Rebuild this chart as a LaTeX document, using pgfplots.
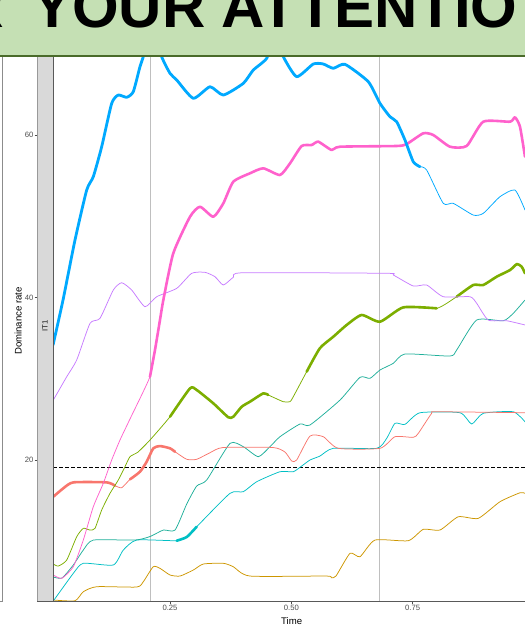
\documentclass[border=0pt]{standalone}
\usepackage{fontspec}
\setmainfont{Liberation Sans}
\usepackage{pgfplots}
\pgfplotsset{compat=1.18}
\definecolor{cred}{HTML}{F8766D}
\definecolor{cgold}{HTML}{CD9600}
\definecolor{cgreen}{HTML}{7CAE00}
\definecolor{cteal}{HTML}{1FAF9A}
\definecolor{ccyan}{HTML}{00BFC4}
\definecolor{cblue}{HTML}{00A9FF}
\definecolor{cpurple}{HTML}{C77CFF}
\definecolor{cpink}{HTML}{FF61CC}
\definecolor{banner}{HTML}{C5E0B4}
\definecolor{bannerline}{HTML}{4A6B2A}
\definecolor{stripgray}{HTML}{D9D9D9}
\definecolor{ticklab}{HTML}{4D4D4D}
\begin{document}
\begin{tikzpicture}[x=1pt,y=1pt]
\useasboundingbox (0,0) rectangle (525,627);
\clip (0,0) rectangle (525,627);
\begin{axis}[
  at={(37.3pt,26pt)}, anchor=south west, scale only axis,
  width=492.3pt, height=553pt,
  xmin=-0.0235, xmax=0.991, ymin=2.65, ymax=70.71,
  axis x line*=bottom, axis y line*=left,
  x axis line style={draw=black!65, line width=0.7pt},
  y axis line style={draw=black!40, line width=0.6pt},
  xtick={0.25,0.5,0.75}, xticklabels={0.25,0.50,0.75},
  ytick={20,40,60}, yticklabels={20,40,60},
  tick align=outside, major tick length=2.7pt,
  tick style={color=black!70, line width=0.5pt},
  tick label style={font=\fontsize{7.7}{8}\selectfont, text=ticklab},
  y tick label style={inner sep=1pt},
  x tick label style={inner sep=1.5pt},
  clip=true,
  every axis plot/.append style={line join=round, line cap=round},
]
% reference lines
\addplot[black!25, line width=0.8pt] coordinates {(0.2087,0) (0.2087,80)};
\addplot[black!25, line width=0.8pt] coordinates {(0.6812,0) (0.6812,80)};
\addplot[black, line width=0.7pt, dash pattern=on 3.5pt off 2.5pt, line cap=butt] coordinates {(0.0089,19.1) (0.991,19.1)};
% gold
\addplot[cgold, line width=0.75pt, smooth, tension=0.35] coordinates {
(0.0095,2.77)(0.0542,2.68)(0.0713,3.79)(0.0989,4.41)(0.1813,4.37)(0.1949,5.02)(0.2155,6.87)(0.2293,6.67)(0.2500,5.85)(0.2706,5.72)(0.2980,6.46)(0.3186,7.20)(0.3598,7.29)(0.3804,6.87)(0.4148,5.72)(0.5721,5.72)(0.5820,5.50)(0.5920,5.72)(0.6209,8.52)(0.6415,8.10)(0.6724,10.15)(0.7410,10.07)(0.7719,11.47)(0.8063,11.38)(0.8441,13.02)(0.8852,12.82)(0.9300,14.87)(0.9712,15.97)(0.9815,15.90)};
% cyan
\addplot[ccyan, line width=0.75pt, smooth, tension=0.35] coordinates {
(0.0095,2.65)(0.0507,6.05)(0.0713,7.29)(0.1331,7.08)(0.1537,8.92)(0.1813,10.15)(0.2638,10.07)(0.2844,10.52)(0.3050,11.79)(0.3736,15.90)(0.4010,16.10)(0.4286,17.33)(0.4766,18.56)(0.5040,18.56)(0.5213,19.26)(0.5384,20.00)(0.5590,20.49)(0.5864,21.44)(0.6759,21.44)(0.6965,22.67)(0.7136,24.52)(0.7342,24.39)(0.7651,25.82)(0.8475,25.82)(0.8716,24.43)(0.8955,25.75)(0.9574,25.94)(0.9815,24.71)};
\addplot[ccyan, line width=2.6pt, smooth, tension=0.35] coordinates {(0.2638,10.07)(0.2844,10.52)(0.3050,11.79)};
% teal
\addplot[cteal, line width=0.75pt, smooth, tension=0.35] coordinates {
(0.0095,5.60)(0.0274,5.48)(0.0507,7.08)(0.0713,8.92)(0.0919,10.15)(0.1778,10.15)(0.2087,10.58)(0.2362,11.38)(0.2603,11.38)(0.2844,14.58)(0.3050,16.80)(0.3256,17.54)(0.3736,22.05)(0.4010,21.64)(0.4319,20.41)(0.4560,21.64)(0.4766,22.87)(0.5178,24.43)(0.5384,24.31)(0.6003,27.38)(0.6415,30.18)(0.6621,30.05)(0.6827,31.08)(0.7101,31.90)(0.7342,33.05)(0.8269,32.80)(0.8407,33.54)(0.8819,37.23)(0.9367,37.14)(0.9574,38.06)(0.9815,39.69)};
% red
\addplot[cred, line width=0.75pt, smooth, tension=0.35] coordinates {
(0.0095,15.48)(0.0301,16.52)(0.0507,17.25)(0.1195,17.25)(0.1366,16.84)(0.1504,16.59)(0.1675,17.62)(0.1881,18.56)(0.2019,19.79)(0.2155,21.44)(0.2293,21.72)(0.2500,21.44)(0.2603,21.02)(0.2844,20.09)(0.3050,20.09)(0.3324,20.90)(0.3592,21.54)(0.4622,21.54)(0.4869,20.98)(0.5007,19.88)(0.5110,20.00)(0.5384,22.95)(0.5658,22.87)(0.5968,21.44)(0.6827,21.44)(0.7136,22.87)(0.7513,22.79)(0.7616,23.28)(0.7892,25.75)(0.7995,25.94)(0.9815,25.82)};
\addplot[cred, line width=2.6pt, smooth, tension=0.35] coordinates {(0.0095,15.48)(0.0301,16.52)(0.0507,17.25)(0.1195,17.25)(0.1366,16.84)};
\addplot[cred, line width=2.6pt, smooth, tension=0.35] coordinates {(0.1675,17.62)(0.1881,18.56)(0.2019,19.79)(0.2155,21.44)(0.2293,21.72)(0.2500,21.44)(0.2603,21.02)};
% green
\addplot[cgreen, line width=0.75pt, smooth, tension=0.35] coordinates {
(0.0095,7.20)(0.0198,6.95)(0.0371,7.69)(0.0577,10.56)(0.0713,11.59)(0.0851,11.38)(0.0954,11.59)(0.1092,13.85)(0.1263,15.90)(0.1434,17.54)(0.1572,19.18)(0.1675,20.41)(0.1840,20.98)(0.2087,22.46)(0.2500,25.33)(0.2912,28.82)(0.3050,28.62)(0.3392,26.98)(0.3701,25.26)(0.3804,25.33)(0.3977,26.56)(0.4148,27.18)(0.4422,28.21)(0.4525,28.00)(0.4834,27.18)(0.4972,27.18)(0.5040,27.79)(0.5316,30.87)(0.5587,33.75)(0.5864,35.17)(0.6140,36.62)(0.6450,37.85)(0.6827,37.02)(0.7307,38.79)(0.7995,38.67)(0.8407,40.10)(0.8749,41.54)(0.8955,41.54)(0.9231,42.56)(0.9506,43.38)(0.9649,44.12)(0.9747,43.79)(0.9815,42.98)};
\addplot[cgreen, line width=2.6pt, smooth, tension=0.35] coordinates {(0.2500,25.33)(0.2912,28.82)(0.3050,28.62)(0.3392,26.98)(0.3701,25.26)(0.3804,25.33)(0.3977,26.56)(0.4148,27.18)(0.4422,28.21)(0.4525,28.00)};
\addplot[cgreen, line width=2.6pt, smooth, tension=0.35] coordinates {(0.5316,30.87)(0.5587,33.75)(0.5864,35.17)(0.6140,36.62)(0.6450,37.85)(0.6827,37.02)(0.7307,38.79)(0.7995,38.67)};
\addplot[cgreen, line width=2.6pt, smooth, tension=0.35] coordinates {(0.8407,40.10)(0.8749,41.54)(0.8955,41.54)(0.9231,42.56)(0.9506,43.38)(0.9649,44.12)(0.9747,43.79)(0.9815,42.98)};
% purple
\addplot[cpurple, line width=0.75pt, smooth, tension=0.35] coordinates {
(0.0095,27.38)(0.0371,30.25)(0.0577,32.31)(0.0851,36.82)(0.1057,37.44)(0.1331,40.92)(0.1504,41.82)(0.1710,40.92)(0.1984,38.87)(0.2225,40.10)(0.2638,41.13)(0.2947,42.98)(0.3221,43.10)(0.3427,42.56)(0.3598,41.54)(0.3804,42.49)(0.4010,43.05)(0.6965,42.98)(0.7101,42.77)(0.7513,41.42)(0.7789,41.54)(0.8131,40.10)(0.8681,40.10)(0.8819,39.29)(0.9058,37.23)(0.9438,37.14)(0.9815,36.62)};
% pink
\addplot[cpink, line width=0.75pt, smooth, tension=0.35] coordinates {
(0.0095,5.85)(0.0268,5.44)(0.0507,6.87)(0.0713,10.15)(0.0919,14.25)(0.1125,17.13)(0.1298,20.00)(0.1469,22.46)(0.1675,25.05)(0.2087,30.25)(0.2190,33.54)};
\addplot[cpink, line width=2.6pt, smooth, tension=0.35] coordinates {
(0.2087,30.25)(0.2190,33.54)(0.2293,37.23)(0.2362,39.69)(0.2567,45.44)(0.2912,49.94)(0.3118,51.17)(0.3392,49.94)(0.3598,51.59)(0.3804,54.25)(0.4148,55.29)(0.4422,55.90)(0.4766,55.08)(0.4972,56.51)(0.5213,58.65)(0.5419,58.77)(0.5555,59.18)(0.5831,58.15)(0.6003,58.56)(0.7171,58.65)(0.7377,58.89)(0.7719,60.21)(0.7925,60.00)(0.8269,58.56)(0.8613,58.65)(0.8955,61.64)(0.9506,61.64)(0.9609,62.18)(0.9712,61.02)(0.9815,57.33)};
% blue
\addplot[cblue, line width=0.75pt, smooth, tension=0.35] coordinates {
(0.7651,56.10)(0.7789,55.69)(0.8131,51.59)(0.8337,51.59)(0.8749,50.15)(0.8955,50.36)(0.9300,52.41)(0.9609,53.23)(0.9815,50.77)};
\addplot[cblue, line width=2.8pt, smooth, tension=0.35] coordinates {
(0.0089,34.15)(0.0295,39.69)(0.0542,47.08)(0.0783,53.23)(0.0919,54.87)(0.1092,58.56)(0.1298,63.90)(0.1434,64.92)(0.1607,64.64)(0.1743,65.33)(0.1881,68.41)(0.1949,69.64)(0.2129,73.54)(0.2328,69.64)(0.2500,67.59)(0.2638,66.77)(0.2980,64.52)(0.3324,65.94)(0.3598,64.92)(0.4010,66.36)(0.4216,68.00)(0.4492,69.44)(0.4663,72.31)(0.4834,69.64)(0.5110,67.18)(0.5452,68.74)(0.5658,68.74)(0.5864,68.21)(0.6106,68.70)(0.6586,66.56)(0.6827,63.90)(0.7033,62.25)(0.7171,61.63)(0.7342,59.38)(0.7513,56.71)(0.7651,56.10)};
\end{axis}
% strip
\filldraw[fill=stripgray, draw=black!40, line width=0.6pt] (37.3,26) rectangle (52.9,579);
\draw[black!65, line width=0.8pt] (52.9,26) -- (52.9,579);
\draw[black!65, line width=0.7pt] (37.3,26) -- (60,26);
\node[rotate=90, font=\fontsize{7.7}{8}\selectfont, text=black!90] at (45.1,301) {IT1};
% axis titles
\node[rotate=90, font=\fontsize{9.6}{10}\selectfont] at (18.3,306) {Dominance rate};
\node[font=\fontsize{9.6}{10}\selectfont] at (291.7,6) {Time};
% neighbouring panel edge
\draw[black!45, line width=0.7pt] (2.7,26) -- (2.7,579);
\draw[black!45, line width=0.7pt] (0,26) -- (2.7,26);
% banner
\fill[banner] (0,571) rectangle (525,627);
\draw[bannerline, line width=1.6pt] (0,571) -- (525,571);
\node[anchor=base west, inner sep=0pt, font=\bfseries] at (32,599) {\resizebox{485pt}{!}{YOUR ATTENTIO}};
\node[anchor=base east, inner sep=0pt, font=\fontsize{59}{60}\selectfont\bfseries] at (4,599) {FOR};
\end{tikzpicture}
\end{document}
